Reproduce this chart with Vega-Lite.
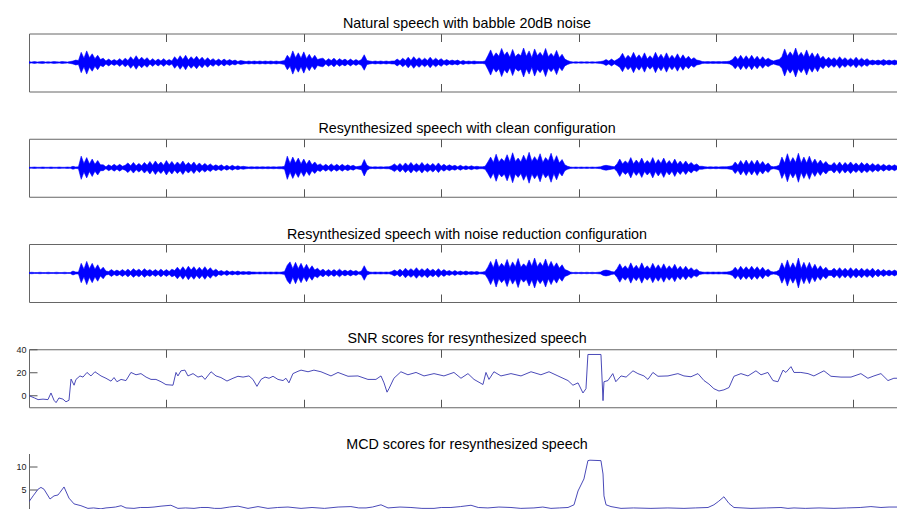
{
"$schema": "https://vega.github.io/schema/vega-lite/v6.json",
"padding": {"left": 15, "top": 16.5, "right": 0, "bottom": 0},
"background": "white",
"spacing": 29.25,
"config": {
  "view": {"stroke": null},
  "font": "Liberation Sans",
  "title": {"fontSize": 14.3, "fontWeight": "normal", "color": "#000000", "font": "Liberation Sans", "anchor": "middle", "dx": 3.5, "offset": 1.5, "baseline": "alphabetic"},
  "axis": {"domainColor": "#666666", "tickColor": "#555555", "grid": false, "title": null, "labels": false, "ticks": true, "tickSize": -8, "domainWidth": 1, "tickWidth": 1, "labelFont": "Liberation Sans", "labelFontSize": 9, "labelColor": "#222222"},
  "axisY": {"minExtent": 13, "maxExtent": 13}
},
"datasets": {
"wave": [
{"t":0,"n":1.5,"c":1,"r":1},{"t":2,"n":1,"c":1,"r":1.5},{"t":4,"n":2,"c":1.5,"r":1},{"t":6,"n":1,"c":1,"r":1},{"t":8,"n":1.5,"c":1,"r":1.5},{"t":10,"n":2,"c":1.5,"r":1},{"t":12,"n":1,"c":1,"r":1},{"t":14,"n":1.5,"c":1,"r":1.5},{"t":16,"n":1,"c":1.5,"r":1},{"t":18,"n":2,"c":1,"r":1},
{"t":20,"n":1.5,"c":1,"r":1.5},{"t":22,"n":1,"c":1.5,"r":1},{"t":24,"n":2,"c":1,"r":1},{"t":26,"n":1.5,"c":1,"r":1.5},{"t":28,"n":1,"c":1.5,"r":1},{"t":30,"n":2,"c":1,"r":1},{"t":32,"n":3,"c":3,"r":4},{"t":34,"n":5,"c":1.5,"r":2},{"t":36,"n":4,"c":2,"r":2},{"t":38,"n":21,"c":24,"r":20},
{"t":40,"n":9,"c":9,"r":8},{"t":42,"n":24,"c":21,"r":24},{"t":44,"n":10,"c":8,"r":9},{"t":46,"n":18,"c":18,"r":20},{"t":48,"n":8,"c":7,"r":8},{"t":50,"n":15,"c":15,"r":17},{"t":52,"n":6,"c":6,"r":6},{"t":54,"n":9,"c":6,"r":12},{"t":56,"n":3,"c":2,"r":4},{"t":58,"n":7,"c":6,"r":3},
{"t":60,"n":3,"c":3,"r":7},{"t":62,"n":6,"c":7,"r":3},{"t":64,"n":3,"c":3,"r":6},{"t":66,"n":8,"c":7,"r":3},{"t":68,"n":3,"c":3,"r":7},{"t":70,"n":9,"c":5,"r":3},{"t":72,"n":4,"c":10,"r":8},{"t":74,"n":12,"c":4,"r":3},{"t":76,"n":5,"c":11,"r":9},{"t":78,"n":14,"c":4,"r":4},
{"t":80,"n":5,"c":9,"r":8},{"t":82,"n":11,"c":4,"r":3},{"t":84,"n":5,"c":11,"r":9},{"t":86,"n":10,"c":5,"r":4},{"t":88,"n":3,"c":13,"r":7},{"t":90,"n":8,"c":5,"r":3},{"t":92,"n":3,"c":14,"r":7},{"t":94,"n":7,"c":6,"r":3},{"t":96,"n":3,"c":12,"r":8},{"t":98,"n":8,"c":5,"r":3},
{"t":100,"n":3,"c":15,"r":7},{"t":102,"n":6,"c":6,"r":3},{"t":104,"n":3,"c":13,"r":8},{"t":106,"n":12,"c":5,"r":5},{"t":108,"n":5,"c":12,"r":12},{"t":110,"n":14,"c":6,"r":5},{"t":112,"n":6,"c":14,"r":13},{"t":114,"n":15,"c":5,"r":5},{"t":116,"n":5,"c":11,"r":14},{"t":118,"n":12,"c":5,"r":6},
{"t":120,"n":6,"c":12,"r":13},{"t":122,"n":13,"c":4,"r":5},{"t":124,"n":5,"c":10,"r":12},{"t":126,"n":11,"c":4,"r":5},{"t":128,"n":4,"c":9,"r":13},{"t":130,"n":10,"c":4,"r":5},{"t":132,"n":4,"c":8,"r":11},{"t":134,"n":8,"c":3,"r":4},{"t":136,"n":3,"c":6,"r":8},{"t":138,"n":7,"c":3,"r":3},
{"t":140,"n":3,"c":6,"r":5},{"t":142,"n":7,"c":2,"r":2},{"t":144,"n":3,"c":5,"r":5},{"t":146,"n":6,"c":2,"r":2},{"t":148,"n":3,"c":5,"r":4},{"t":150,"n":5,"c":2,"r":2},{"t":152,"n":2,"c":4,"r":4},{"t":154,"n":4,"c":2,"r":2},{"t":156,"n":3,"c":3,"r":3},{"t":158,"n":2,"c":2,"r":2},
{"t":160,"n":3,"c":1.5,"r":3},{"t":162,"n":2,"c":2,"r":2},{"t":164,"n":3,"c":1.5,"r":2},{"t":166,"n":2,"c":2,"r":1.5},{"t":168,"n":3,"c":1.5,"r":2},{"t":170,"n":2,"c":2,"r":1.5},{"t":172,"n":3,"c":1.5,"r":2},{"t":174,"n":2,"c":2,"r":1.5},{"t":176,"n":3,"c":1.5,"r":2},{"t":178,"n":2,"c":2,"r":1.5},
{"t":180,"n":3,"c":1.5,"r":2},{"t":182,"n":2,"c":2,"r":1.5},{"t":184,"n":3,"c":2,"r":2},{"t":186,"n":4,"c":3,"r":3},{"t":188,"n":15,"c":24,"r":16},{"t":190,"n":8,"c":9,"r":23},{"t":192,"n":24,"c":22,"r":9},{"t":194,"n":10,"c":10,"r":22},{"t":196,"n":20,"c":20,"r":9},{"t":198,"n":9,"c":8,"r":20},
{"t":200,"n":22,"c":18,"r":8},{"t":202,"n":8,"c":7,"r":18},{"t":204,"n":17,"c":16,"r":7},{"t":206,"n":7,"c":6,"r":15},{"t":208,"n":15,"c":12,"r":6},{"t":210,"n":6,"c":5,"r":10},{"t":212,"n":8,"c":8,"r":4},{"t":214,"n":9,"c":3,"r":8},{"t":216,"n":3,"c":7,"r":3},{"t":218,"n":8,"c":3,"r":7},
{"t":220,"n":4,"c":8,"r":3},{"t":222,"n":9,"c":3,"r":7},{"t":224,"n":3,"c":7,"r":3},{"t":226,"n":8,"c":3,"r":8},{"t":228,"n":4,"c":7,"r":3},{"t":230,"n":7,"c":3,"r":6},{"t":232,"n":3,"c":6,"r":3},{"t":234,"n":7,"c":3,"r":6},{"t":236,"n":3,"c":5,"r":3},{"t":238,"n":6,"c":2,"r":5},
{"t":240,"n":3,"c":3,"r":2},{"t":242,"n":6,"c":4,"r":4},{"t":244,"n":16,"c":17,"r":15},{"t":246,"n":4,"c":5,"r":4},{"t":248,"n":3,"c":2,"r":2},{"t":250,"n":2,"c":1.5,"r":1.5},{"t":252,"n":3,"c":2,"r":2},{"t":254,"n":2,"c":1.5,"r":1.5},{"t":256,"n":3,"c":2,"r":2},{"t":258,"n":2,"c":1.5,"r":1.5},
{"t":260,"n":3,"c":2,"r":2},{"t":262,"n":2,"c":2,"r":1.5},{"t":264,"n":3,"c":4,"r":3},{"t":266,"n":3,"c":8,"r":6},{"t":268,"n":7,"c":3,"r":3},{"t":270,"n":3,"c":9,"r":8},{"t":272,"n":9,"c":3,"r":3},{"t":274,"n":4,"c":10,"r":10},{"t":276,"n":11,"c":4,"r":4},{"t":278,"n":4,"c":11,"r":9},
{"t":280,"n":12,"c":4,"r":4},{"t":282,"n":5,"c":9,"r":11},{"t":284,"n":10,"c":4,"r":4},{"t":286,"n":4,"c":11,"r":9},{"t":288,"n":9,"c":4,"r":4},{"t":290,"n":4,"c":9,"r":10},{"t":292,"n":11,"c":4,"r":4},{"t":294,"n":4,"c":9,"r":8},{"t":296,"n":9,"c":3,"r":3},{"t":298,"n":4,"c":10,"r":9},
{"t":300,"n":8,"c":3,"r":3},{"t":302,"n":3,"c":7,"r":7},{"t":304,"n":6,"c":3,"r":3},{"t":306,"n":3,"c":6,"r":5},{"t":308,"n":5,"c":3,"r":2},{"t":310,"n":3,"c":5,"r":5},{"t":312,"n":5,"c":2,"r":2},{"t":314,"n":2,"c":5,"r":4},{"t":316,"n":4,"c":2,"r":2},{"t":318,"n":2,"c":4,"r":4},
{"t":320,"n":3,"c":2,"r":2},{"t":322,"n":2,"c":4,"r":3},{"t":324,"n":3,"c":2,"r":2},{"t":326,"n":2,"c":3,"r":3},{"t":328,"n":2,"c":2,"r":1.5},{"t":330,"n":2,"c":2,"r":2},{"t":332,"n":3,"c":3,"r":3},{"t":334,"n":14,"c":12,"r":12},{"t":336,"n":26,"c":22,"r":24},{"t":338,"n":12,"c":11,"r":11},
{"t":340,"n":20,"c":28,"r":29},{"t":342,"n":13,"c":12,"r":12},{"t":344,"n":29,"c":19,"r":20},{"t":346,"n":15,"c":13,"r":13},{"t":348,"n":22,"c":27,"r":28},{"t":350,"n":11,"c":12,"r":11},{"t":352,"n":27,"c":31,"r":23},{"t":354,"n":12,"c":13,"r":13},{"t":356,"n":18,"c":20,"r":30},{"t":358,"n":14,"c":12,"r":12},
{"t":360,"n":30,"c":26,"r":19},{"t":362,"n":13,"c":14,"r":13},{"t":364,"n":24,"c":32,"r":27},{"t":366,"n":10,"c":13,"r":14},{"t":368,"n":28,"c":23,"r":31},{"t":370,"n":14,"c":14,"r":13},{"t":372,"n":21,"c":29,"r":22},{"t":374,"n":13,"c":11,"r":14},{"t":376,"n":29,"c":21,"r":29},{"t":378,"n":12,"c":14,"r":12},
{"t":380,"n":19,"c":30,"r":24},{"t":382,"n":12,"c":12,"r":12},{"t":384,"n":25,"c":25,"r":21},{"t":386,"n":10,"c":10,"r":10},{"t":388,"n":17,"c":17,"r":17},{"t":390,"n":7,"c":6,"r":7},{"t":392,"n":4,"c":3,"r":5},{"t":394,"n":2,"c":1.5,"r":2},{"t":396,"n":1,"c":1,"r":1},{"t":398,"n":1.5,"c":1.5,"r":1.5},
{"t":400,"n":1,"c":1,"r":1},{"t":402,"n":1.5,"c":1.5,"r":1.5},{"t":404,"n":1,"c":1,"r":1},{"t":406,"n":1.5,"c":1.5,"r":1.5},{"t":408,"n":1,"c":1,"r":1},{"t":410,"n":1.5,"c":1.5,"r":1.5},{"t":412,"n":1,"c":1,"r":1},{"t":414,"n":1.5,"c":1.5,"r":1.5},{"t":416,"n":2,"c":2,"r":2},{"t":418,"n":3,"c":4,"r":5},
{"t":420,"n":6,"c":5,"r":6},{"t":422,"n":3,"c":4,"r":5},{"t":424,"n":7,"c":3,"r":3},{"t":426,"n":3,"c":2,"r":2},{"t":428,"n":6,"c":8,"r":9},{"t":430,"n":10,"c":18,"r":19},{"t":432,"n":19,"c":8,"r":9},{"t":434,"n":8,"c":14,"r":15},{"t":436,"n":15,"c":9,"r":8},{"t":438,"n":9,"c":21,"r":21},
{"t":440,"n":21,"c":8,"r":9},{"t":442,"n":9,"c":16,"r":16},{"t":444,"n":16,"c":9,"r":8},{"t":446,"n":8,"c":20,"r":21},{"t":448,"n":20,"c":8,"r":9},{"t":450,"n":7,"c":15,"r":15},{"t":452,"n":14,"c":9,"r":8},{"t":454,"n":8,"c":21,"r":20},{"t":456,"n":21,"c":8,"r":9},{"t":458,"n":9,"c":17,"r":17},
{"t":460,"n":17,"c":9,"r":8},{"t":462,"n":8,"c":20,"r":19},{"t":464,"n":20,"c":8,"r":8},{"t":466,"n":8,"c":15,"r":15},{"t":468,"n":15,"c":7,"r":8},{"t":470,"n":8,"c":18,"r":18},{"t":472,"n":18,"c":7,"r":7},{"t":474,"n":7,"c":14,"r":14},{"t":476,"n":16,"c":6,"r":6},{"t":478,"n":7,"c":14,"r":14},
{"t":480,"n":13,"c":6,"r":6},{"t":482,"n":6,"c":11,"r":11},{"t":484,"n":10,"c":5,"r":5},{"t":486,"n":5,"c":8,"r":8},{"t":488,"n":4,"c":3,"r":3},{"t":490,"n":2,"c":3,"r":2},{"t":492,"n":1.5,"c":2,"r":1.5},{"t":494,"n":2,"c":1.5,"r":2},{"t":496,"n":1.5,"c":2,"r":1.5},{"t":498,"n":2,"c":1.5,"r":2},
{"t":500,"n":1.5,"c":2,"r":1.5},{"t":502,"n":2,"c":1.5,"r":2},{"t":504,"n":1.5,"c":2,"r":1.5},{"t":506,"n":2,"c":2,"r":2},{"t":508,"n":2,"c":2,"r":2},{"t":510,"n":3,"c":3,"r":3},{"t":512,"n":6,"c":4,"r":5},{"t":514,"n":13,"c":12,"r":12},{"t":516,"n":6,"c":5,"r":5},{"t":518,"n":15,"c":15,"r":14},
{"t":520,"n":6,"c":6,"r":6},{"t":522,"n":14,"c":16,"r":13},{"t":524,"n":6,"c":6,"r":6},{"t":526,"n":15,"c":15,"r":14},{"t":528,"n":6,"c":6,"r":6},{"t":530,"n":13,"c":16,"r":13},{"t":532,"n":5,"c":6,"r":5},{"t":534,"n":12,"c":13,"r":12},{"t":536,"n":5,"c":5,"r":4},{"t":538,"n":9,"c":10,"r":8},
{"t":540,"n":5,"c":3,"r":3},{"t":542,"n":3,"c":2,"r":2},{"t":544,"n":5,"c":3,"r":3},{"t":546,"n":6,"c":5,"r":6},{"t":548,"n":12,"c":22,"r":21},{"t":550,"n":28,"c":10,"r":9},{"t":552,"n":13,"c":29,"r":27},{"t":554,"n":22,"c":11,"r":10},{"t":556,"n":14,"c":21,"r":21},{"t":558,"n":30,"c":11,"r":10},
{"t":560,"n":13,"c":30,"r":31},{"t":562,"n":21,"c":10,"r":9},{"t":564,"n":12,"c":22,"r":22},{"t":566,"n":26,"c":10,"r":9},{"t":568,"n":11,"c":24,"r":22},{"t":570,"n":20,"c":9,"r":8},{"t":572,"n":10,"c":18,"r":18},{"t":574,"n":19,"c":8,"r":7},{"t":576,"n":8,"c":16,"r":15},{"t":578,"n":13,"c":7,"r":6},
{"t":580,"n":5,"c":13,"r":12},{"t":582,"n":11,"c":6,"r":5},{"t":584,"n":5,"c":5,"r":5},{"t":586,"n":10,"c":11,"r":10},{"t":588,"n":4,"c":4,"r":4},{"t":590,"n":12,"c":12,"r":11},{"t":592,"n":5,"c":4,"r":4},{"t":594,"n":10,"c":11,"r":10},{"t":596,"n":4,"c":5,"r":4},{"t":598,"n":9,"c":12,"r":11},
{"t":600,"n":4,"c":5,"r":4},{"t":602,"n":11,"c":10,"r":10},{"t":604,"n":4,"c":4,"r":4},{"t":606,"n":9,"c":11,"r":10},{"t":608,"n":4,"c":5,"r":4},{"t":610,"n":8,"c":10,"r":9},{"t":612,"n":3,"c":4,"r":4},{"t":614,"n":5,"c":9,"r":10},{"t":616,"n":3,"c":4,"r":3},{"t":618,"n":5,"c":8,"r":8},
{"t":620,"n":3,"c":3,"r":3},{"t":622,"n":6,"c":7,"r":7},{"t":624,"n":3,"c":3,"r":3},{"t":626,"n":5,"c":6,"r":6},{"t":628,"n":3,"c":3,"r":3},{"t":630,"n":5,"c":6,"r":6},{"t":632,"n":3,"c":3,"r":3}
],
"snr": [
{"t":0,"v":0},{"t":4,"v":-2},{"t":6.6,"v":-3.4},{"t":10.2,"v":-3},{"t":13.8,"v":-3.4},{"t":16,"v":2.3},{"t":18.2,"v":-4},{"t":19.7,"v":-6},{"t":21.8,"v":-2},{"t":24.7,"v":-3},{"t":26.9,"v":-5.3},{"t":29.1,"v":-4},{"t":30.6,"v":14.3},{"t":32.8,"v":9},{"t":34.2,"v":14},{"t":37.1,"v":17},{"t":39.3,"v":16},{"t":42.2,"v":20},{"t":45.1,"v":17},{"t":48,"v":20.6},
{"t":52.4,"v":17},{"t":56,"v":15},{"t":59.7,"v":12.5},{"t":61.9,"v":15.6},{"t":64,"v":12},{"t":67,"v":14},{"t":70.6,"v":13},{"t":74.2,"v":20},{"t":77.9,"v":18},{"t":81.5,"v":19},{"t":85.2,"v":16},{"t":88.8,"v":14},{"t":92.4,"v":14},{"t":96.1,"v":12},{"t":99.7,"v":9.5},{"t":104.8,"v":9},{"t":107,"v":20},{"t":108.4,"v":17},{"t":110.6,"v":21.4},{"t":113.5,"v":22},
{"t":115.7,"v":17},{"t":119.4,"v":19},{"t":123,"v":16},{"t":125.9,"v":17},{"t":128.1,"v":14},{"t":132.5,"v":20.6},{"t":136.1,"v":17},{"t":139.7,"v":15.6},{"t":144.1,"v":12.6},{"t":148.5,"v":15},{"t":152.1,"v":16.7},{"t":155.8,"v":16},{"t":160.1,"v":17},{"t":163,"v":14},{"t":165.9,"v":8},{"t":168.9,"v":14},{"t":171.8,"v":16},{"t":174.7,"v":15},{"t":177.6,"v":16.7},{"t":181.2,"v":14},
{"t":184.9,"v":13},{"t":187,"v":15},{"t":189.2,"v":11},{"t":192.1,"v":19},{"t":195.8,"v":21},{"t":198,"v":22},{"t":203.1,"v":20.6},{"t":207.4,"v":22},{"t":212.5,"v":20.6},{"t":219.8,"v":17},{"t":224.9,"v":20},{"t":232.2,"v":16.7},{"t":239.4,"v":17},{"t":246.7,"v":14},{"t":252.5,"v":14},{"t":256.2,"v":17},{"t":258.4,"v":11},{"t":260.6,"v":3},{"t":262,"v":6},{"t":265.6,"v":15},
{"t":270.7,"v":20.6},{"t":275.8,"v":18},{"t":281.7,"v":20},{"t":287.5,"v":17},{"t":294.8,"v":19},{"t":302,"v":17},{"t":309.3,"v":20},{"t":314.4,"v":15},{"t":319.5,"v":19},{"t":323.9,"v":14},{"t":330.4,"v":9.6},{"t":332.6,"v":20},{"t":334.8,"v":14},{"t":338.4,"v":20.6},{"t":343.5,"v":17},{"t":350.8,"v":19},{"t":358.1,"v":17},{"t":365.4,"v":20.6},{"t":372.6,"v":18},{"t":378.5,"v":20.6},
{"t":385,"v":17},{"t":392.3,"v":13},{"t":395.9,"v":9},{"t":399.6,"v":11},{"t":403.2,"v":2.3},{"t":405.4,"v":6},{"t":406.8,"v":35.5},{"t":416.3,"v":35.5},{"t":417.8,"v":-4.3},{"t":418.5,"v":12},{"t":421.4,"v":13},{"t":424.9,"v":19},{"t":427.1,"v":12},{"t":430.9,"v":17},{"t":434.6,"v":16},{"t":439.6,"v":21.4},{"t":443.2,"v":19},{"t":447.6,"v":17},{"t":450.5,"v":14},{"t":454.1,"v":20},
{"t":457.8,"v":16.7},{"t":465.1,"v":17},{"t":472.3,"v":19},{"t":476.7,"v":17},{"t":481.8,"v":16.3},{"t":486.9,"v":19},{"t":491.3,"v":13},{"t":494.9,"v":10},{"t":498.5,"v":6},{"t":502.2,"v":4},{"t":505.8,"v":5},{"t":509.5,"v":7},{"t":513.1,"v":16.7},{"t":518.2,"v":19},{"t":523.3,"v":17},{"t":529.1,"v":21.4},{"t":532.8,"v":18},{"t":537.8,"v":20},{"t":541.5,"v":13},{"t":545.1,"v":12},
{"t":548.8,"v":22},{"t":550.9,"v":20},{"t":554.6,"v":25},{"t":556.8,"v":20},{"t":561.8,"v":20},{"t":567,"v":19},{"t":571.3,"v":17},{"t":578.6,"v":21.4},{"t":583.7,"v":16.7},{"t":591,"v":16},{"t":598.3,"v":16},{"t":605.5,"v":19},{"t":610.6,"v":15},{"t":615,"v":17},{"t":620.1,"v":19},{"t":625.2,"v":13},{"t":629.5,"v":15},{"t":632.5,"v":15}
],
"mcd": [
{"t":0,"v":2.2},{"t":3,"v":3.5},{"t":6.6,"v":5.0},{"t":8.7,"v":5.4},{"t":10.9,"v":5.0},{"t":15.3,"v":2.8},{"t":18.2,"v":3.5},{"t":21.1,"v":3.7},{"t":22.6,"v":4.3},{"t":25.5,"v":5.5},{"t":29.1,"v":3.0},{"t":32.8,"v":1.7},{"t":37.8,"v":1.3},{"t":42.9,"v":0.7},{"t":47,"v":0.8},{"t":52.4,"v":0.6},{"t":56,"v":0.8},{"t":59.7,"v":0.9},{"t":63,"v":1.0},{"t":67,"v":1.3},
{"t":70.6,"v":0.8},{"t":76.4,"v":0.7},{"t":81,"v":0.9},{"t":86.6,"v":0.9},{"t":91,"v":1.0},{"t":96.1,"v":1.2},{"t":103.3,"v":1.4},{"t":108.4,"v":0.7},{"t":114,"v":0.8},{"t":120.1,"v":0.7},{"t":125,"v":0.9},{"t":130.3,"v":0.9},{"t":135,"v":0.7},{"t":139.7,"v":0.7},{"t":146,"v":1.0},{"t":152.1,"v":1.2},{"t":159.4,"v":0.7},{"t":166.7,"v":1.1},{"t":173.9,"v":0.7},{"t":181,"v":0.9},
{"t":188.5,"v":1.0},{"t":198,"v":0.7},{"t":206,"v":0.9},{"t":215,"v":0.7},{"t":225,"v":1.0},{"t":234.3,"v":1.1},{"t":240,"v":0.8},{"t":245.3,"v":0.8},{"t":250,"v":1.0},{"t":256.2,"v":1.5},{"t":261.3,"v":0.8},{"t":270,"v":1.0},{"t":278,"v":0.9},{"t":286,"v":0.7},{"t":294.8,"v":0.7},{"t":300,"v":0.9},{"t":307.1,"v":0.9},{"t":314,"v":1.1},{"t":321.7,"v":1.4},{"t":327,"v":0.9},
{"t":334,"v":0.8},{"t":342,"v":1.0},{"t":350.8,"v":0.9},{"t":358,"v":0.7},{"t":367.5,"v":0.8},{"t":374,"v":1.0},{"t":379.9,"v":0.7},{"t":386,"v":0.8},{"t":392.3,"v":0.9},{"t":396.7,"v":1.5},{"t":399.6,"v":4.6},{"t":403.9,"v":7.3},{"t":406.8,"v":11.4},{"t":408.3,"v":11.5},{"t":416.3,"v":11.4},{"t":417.8,"v":8.4},{"t":418.5,"v":3.5},{"t":420,"v":1.5},{"t":423.6,"v":1.1},{"t":430.9,"v":0.7},
{"t":440,"v":0.8},{"t":452.7,"v":0.7},{"t":465,"v":0.8},{"t":476.7,"v":0.7},{"t":485,"v":0.8},{"t":494.2,"v":0.9},{"t":498.5,"v":1.5},{"t":502,"v":2.3},{"t":505.8,"v":3.3},{"t":509.5,"v":1.8},{"t":513.1,"v":0.9},{"t":525.5,"v":0.7},{"t":537,"v":0.8},{"t":547.3,"v":0.9},{"t":552.4,"v":0.7},{"t":556.8,"v":0.8},{"t":565,"v":0.7},{"t":575,"v":0.8},{"t":585.9,"v":0.7},{"t":595,"v":0.8},
{"t":605,"v":0.9},{"t":612.8,"v":1.1},{"t":620.1,"v":0.9},{"t":626,"v":1.0},{"t":632.5,"v":1.0}
]
},
"vconcat": [
{
 "width": 869, "height": 58,
 "title": "Natural speech with babble 20dB noise",
 "data": {"name": "wave"},
 "layer": [
  {"mark": {"type": "area", "color": "#0000ff", "stroke": "#0000ff", "strokeWidth": 0.6, "clip": true},
   "encoding": {
    "x": {"field": "t", "type": "quantitative", "scale": {"domain": [0, 632.5], "nice": false, "zero": false}, "axis": {"orient": "bottom", "values": [100, 200, 300, 400, 500, 600]}},
    "y": {"field": "n", "type": "quantitative", "stack": "center", "scale": {"domain": [-15, 45], "nice": false, "zero": false}, "axis": {"ticks": false, "labels": false}}
   }},
  {"mark": {"type": "point", "opacity": 0},
   "encoding": {"x": {"field": "t", "type": "quantitative", "axis": {"orient": "top", "values": [100, 200, 300, 400, 500, 600]}}}}
 ]
},
{
 "width": 869, "height": 58,
 "title": "Resynthesized speech with clean configuration",
 "data": {"name": "wave"},
 "layer": [
  {"mark": {"type": "area", "color": "#0000ff", "stroke": "#0000ff", "strokeWidth": 0.6, "clip": true},
   "encoding": {
    "x": {"field": "t", "type": "quantitative", "scale": {"domain": [0, 632.5], "nice": false, "zero": false}, "axis": {"orient": "bottom", "values": [100, 200, 300, 400, 500, 600]}},
    "y": {"field": "c", "type": "quantitative", "stack": "center", "scale": {"domain": [-14, 46], "nice": false, "zero": false}, "axis": {"ticks": false, "labels": false}}
   }},
  {"mark": {"type": "point", "opacity": 0},
   "encoding": {"x": {"field": "t", "type": "quantitative", "axis": {"orient": "top", "values": [100, 200, 300, 400, 500, 600]}}}}
 ]
},
{
 "width": 869, "height": 58,
 "title": "Resynthesized speech with noise reduction configuration",
 "data": {"name": "wave"},
 "layer": [
  {"mark": {"type": "area", "color": "#0000ff", "stroke": "#0000ff", "strokeWidth": 0.6, "clip": true},
   "encoding": {
    "x": {"field": "t", "type": "quantitative", "scale": {"domain": [0, 632.5], "nice": false, "zero": false}, "axis": {"orient": "bottom", "values": [100, 200, 300, 400, 500, 600]}},
    "y": {"field": "r", "type": "quantitative", "stack": "center", "scale": {"domain": [-14.5, 45.5], "nice": false, "zero": false}, "axis": {"ticks": false, "labels": false}}
   }},
  {"mark": {"type": "point", "opacity": 0},
   "encoding": {"x": {"field": "t", "type": "quantitative", "axis": {"orient": "top", "values": [100, 200, 300, 400, 500, 600]}}}}
 ]
},
{
 "width": 869, "height": 58,
 "title": {"text": "SNR scores for resynthesized speech", "offset": -1.5},
 "data": {"name": "snr"},
 "layer": [
  {"mark": {"type": "line", "color": "#3535b0", "strokeWidth": 0.9, "clip": true},
   "encoding": {
    "x": {"field": "t", "type": "quantitative", "scale": {"domain": [0, 632.5], "nice": false, "zero": false}, "axis": {"orient": "bottom", "values": [100, 200, 300, 400, 500, 600]}},
    "y": {"field": "v", "type": "quantitative", "scale": {"domain": [-10, 40], "nice": false, "zero": false}, "axis": {"values": [0, 20, 40], "labels": true, "ticks": true, "labelPadding": 11}}
   }},
  {"mark": {"type": "point", "opacity": 0},
   "encoding": {"x": {"field": "t", "type": "quantitative", "axis": {"orient": "top", "values": [100, 200, 300, 400, 500, 600]}}}}
 ]
},
{
 "width": 869, "height": 58,
 "title": "MCD scores for resynthesized speech",
 "data": {"name": "mcd"},
 "layer": [
  {"mark": {"type": "line", "color": "#3535b0", "strokeWidth": 0.9, "clip": true},
   "encoding": {
    "x": {"field": "t", "type": "quantitative", "scale": {"domain": [0, 632.5], "nice": false, "zero": false}, "axis": null},
    "y": {"field": "v", "type": "quantitative", "scale": {"domain": [0, 13], "nice": false, "zero": false}, "axis": {"values": [5, 10], "labels": true, "ticks": true, "labelPadding": 11}}
   }},
  {"mark": {"type": "point", "opacity": 0},
   "encoding": {"x": {"field": "t", "type": "quantitative", "axis": {"orient": "top", "values": [100, 200, 300, 400, 500, 600]}}}}
 ]
}
]
}
